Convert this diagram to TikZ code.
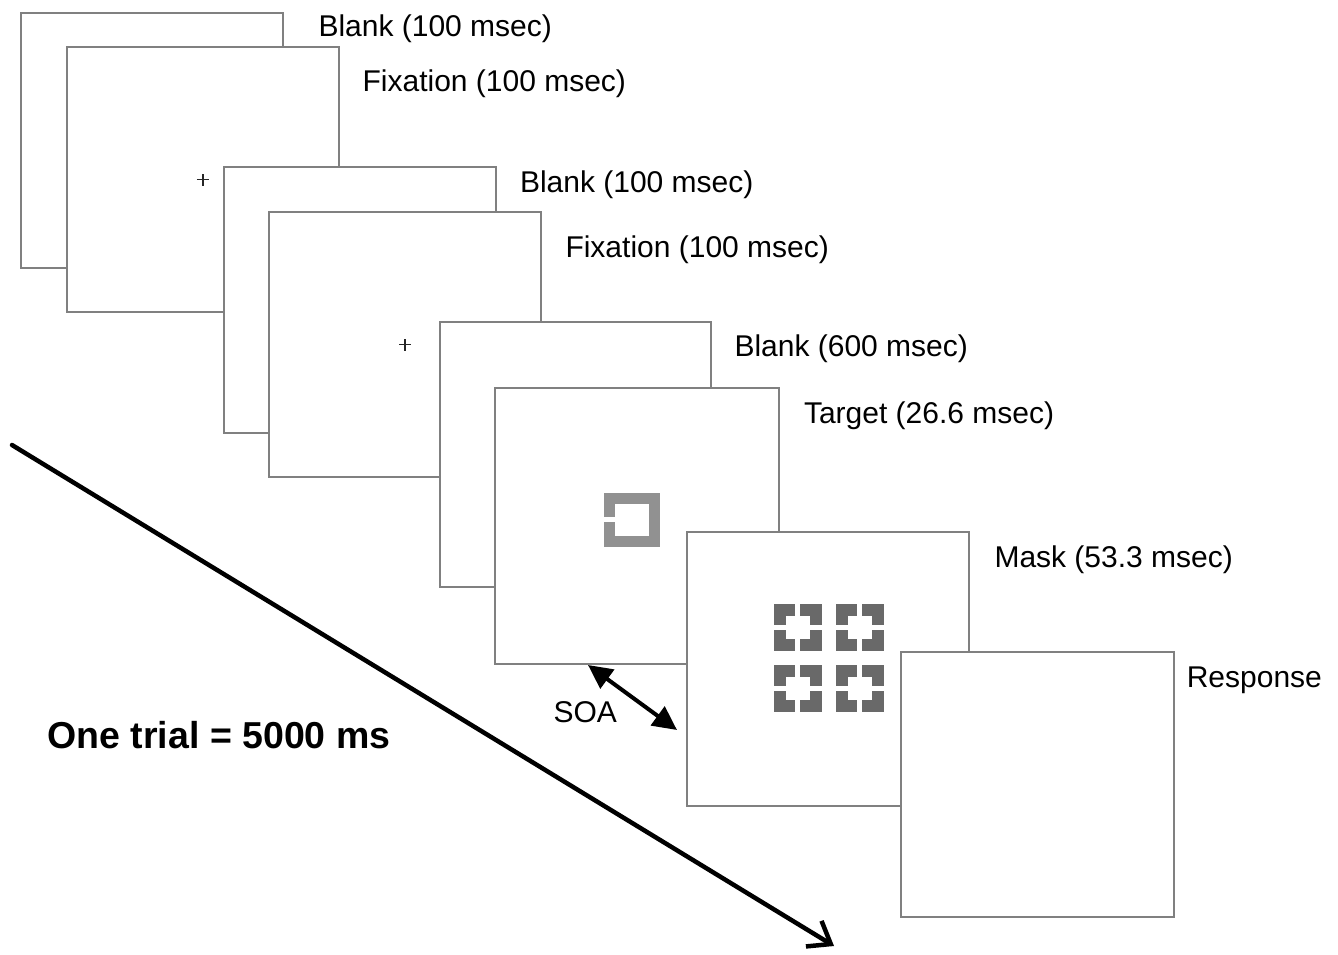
\documentclass[tikz,border=0pt]{standalone}
\usepackage{fontspec}
\setmainfont{Liberation Sans}
\usetikzlibrary{arrows.meta}
\definecolor{framegray}{RGB}{128,128,128}
\definecolor{tgray}{RGB}{145,145,145}
\definecolor{mgray}{RGB}{105,105,105}
\tikzset{
  screen/.style={draw=framegray, line width=2pt, fill=white, inner sep=0pt, outer sep=0pt},
  lbl/.style={anchor=base west, inner sep=0pt, outer sep=0pt, font=\fontsize{30}{36}\selectfont},
  bigl/.style={anchor=base west, inner sep=0pt, outer sep=0pt, font=\fontsize{37.5}{45}\selectfont\bfseries},
  plus/.style={line width=1.8pt, black!85},
}
\begin{document}
\begin{tikzpicture}[x=1pt,y=-1pt]
\useasboundingbox (0,0) rectangle (1338,955);

% screens, back to front
\node[screen, minimum width=262pt, minimum height=254.4pt] (b1) at (151.7,140.5) {};
\node[screen, minimum width=272.3pt, minimum height=264.4pt] (f1) at (202.85,179.5) {};
\draw[plus] ([xshift=-6pt]f1.center) -- ([xshift=6pt]f1.center);
\draw[plus] ([yshift=-6pt]f1.center) -- ([yshift=6pt]f1.center);
\node[screen, minimum width=272pt, minimum height=266pt] (b2) at (360,300.3) {};
\node[screen, minimum width=272pt, minimum height=264.4pt] (f2) at (405.3,344.5) {};
\draw[plus] ([xshift=-6pt]f2.center) -- ([xshift=6pt]f2.center);
\draw[plus] ([yshift=-6pt]f2.center) -- ([yshift=6pt]f2.center);
\node[screen, minimum width=270.7pt, minimum height=265.3pt] (b3) at (575.3,454.7) {};
\node[screen, minimum width=284pt, minimum height=276.3pt] (tg) at (637,526.2) {};
% target square
\fill[tgray] (604,493.3) rectangle (660,546.7);
\fill[white] (615,504) rectangle (649.3,536);
\fill[white] (602,517) rectangle (616,522);
\node[screen, minimum width=281.5pt, minimum height=274.5pt] (mk) at (827.75,668.75) {};
% mask elements
\foreach \xx/\yy in {773.5/604, 835.5/604, 773.5/664.5, 835.5/664.5}{
  \fill[mgray] (\xx,\yy) rectangle ++(48,47);
  \fill[white] (\xx+12,\yy+12) rectangle ++(24,23);
  \fill[white] (\xx+21.5,\yy-1) rectangle ++(5,49);
  \fill[white] (\xx-1,\yy+21) rectangle ++(50,5);
}
\node[screen, minimum width=273pt, minimum height=265pt] (rs) at (1037,784.8) {};

% labels
\node[lbl] (lb1) at (318.5,37) {Blank (100 msec)};
\node[lbl] (lf1) at (362.6,92) {Fixation (100 msec)};
\node[lbl] (lb2) at (520,192) {Blank (100 msec)};
\node[lbl] (lf2) at (565.5,257) {Fixation (100 msec)};
\node[lbl] (lb3) at (734.5,356.5) {Blank (600 msec)};
\node[lbl] (ltg) at (804,423) {Target (26.6 msec)};
\node[lbl] (lmk) at (994.5,567) {Mask (53.3 msec)};
\node[lbl] (lrs) at (1186.8,687) {Response};
\node[lbl] (lsoa) at (553.5,722) {SOA};
\node[bigl] (ltrial) at (47.5,748) {One trial = 5000 ms};

% SOA arrow
\coordinate (soaA) at (588,665);
\coordinate (soaB) at (677,730);
\draw[line width=4pt, {Triangle[length=24pt,width=23pt]}-{Triangle[length=24pt,width=23pt]}] (soaA) -- (soaB);

% time arrow
\coordinate (tA) at (12,445);
\coordinate (tB) at (834,946);
\draw[line width=4.5pt, line cap=round, -{Straight Barb[length=20pt,width=30pt]}] (tA) -- (tB);
\end{tikzpicture}
\end{document}
